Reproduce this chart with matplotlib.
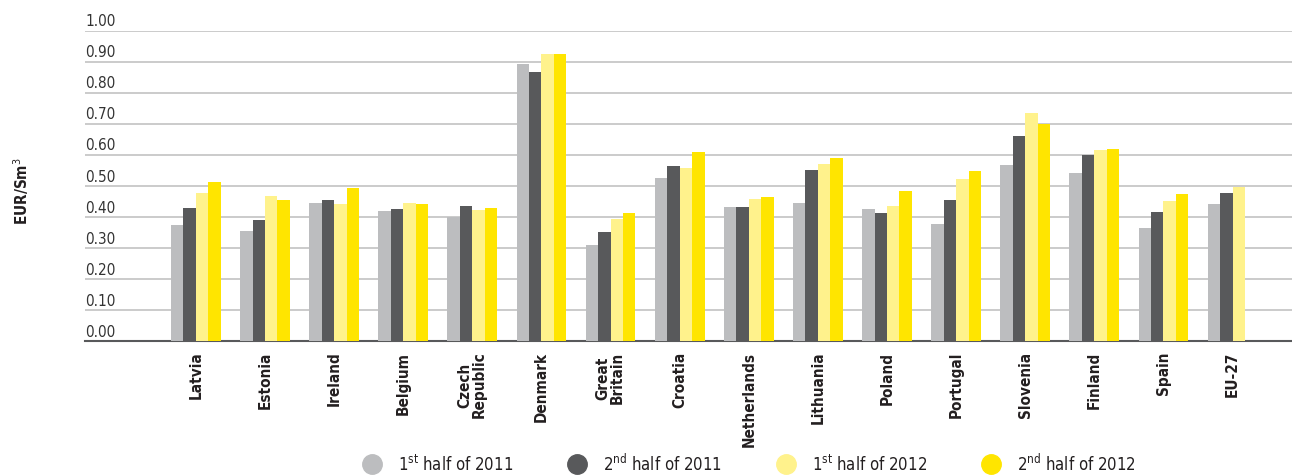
import numpy as np
import matplotlib
matplotlib.use('Agg')
from matplotlib import pyplot as plt
from matplotlib.lines import Line2D
from matplotlib import transforms

plt.rcParams['font.family'] = ['DejaVu Sans']
plt.rcParams['font.stretch'] = 'condensed'
plt.rcParams['mathtext.fontset'] = 'custom'
plt.rcParams['mathtext.rm'] = 'DejaVu Sans:stretch=condensed'

# data
countries = ['Latvia', 'Estonia', 'Ireland', 'Belgium', 'Czech\nRepublic', 'Denmark',
             'Great\nBritain', 'Croatia', 'Netherlands', 'Lithuania', 'Poland',
             'Portugal', 'Slovenia', 'Finland', 'Spain', 'EU-27']
h1_2011 = [0.375, 0.354, 0.445, 0.419, 0.399, 0.895, 0.310, 0.525, 0.432, 0.445,
           0.425, 0.376, 0.568, 0.542, 0.364, 0.442]
h2_2011 = [0.428, 0.389, 0.455, 0.425, 0.437, 0.869, 0.351, 0.564, 0.432, 0.551,
           0.412, 0.455, 0.660, 0.600, 0.415, 0.477]
h1_2012 = [0.476, 0.467, 0.442, 0.446, 0.424, 0.926, 0.394, 0.559, 0.458, 0.572,
           0.437, 0.521, 0.735, 0.617, 0.450, 0.498]
h2_2012 = [0.512, 0.455, 0.494, 0.442, 0.429, 0.926, 0.412, 0.611, 0.464, 0.590,
           0.485, 0.547, 0.700, 0.620, 0.473, np.nan]
series_labels = ['1$^{\\mathrm{st}}$ half of 2011', '2$^{\\mathrm{nd}}$ half of 2011',
                 '1$^{\\mathrm{st}}$ half of 2012', '2$^{\\mathrm{nd}}$ half of 2012']
yticks = [0.0, 0.1, 0.2, 0.3, 0.4, 0.5, 0.6, 0.7, 0.8, 0.9, 1.0]

colors = ['#bcbdbf', '#58595b', '#fff28c', '#ffe500']
grid_col = '#c2c2c2'

fig = plt.figure(figsize=(12.92, 4.77), dpi=100)
ax = fig.add_axes([0.066, 0.283, 0.934, 0.650])

x = np.arange(len(countries))
w = 0.18
for i, vals in enumerate([h1_2011, h2_2011, h1_2012, h2_2012]):
    ax.bar(x + (i - 1.5) * w, vals, width=w, color=colors[i], zorder=3)

ax.set_xlim(-1.6, 15.86)
ax.set_ylim(0, 1.0)
for s in ['top', 'right', 'left']:
    ax.spines[s].set_visible(False)
ax.spines['bottom'].set_color('#58595b')
ax.spines['bottom'].set_linewidth(1.5)

ax.set_yticks(yticks)
ax.set_yticklabels([])
ax.tick_params(axis='y', length=0)
for t in yticks[1:]:
    ax.axhline(t, color=grid_col, lw=1.2, zorder=1)
trans = transforms.blended_transform_factory(ax.transAxes, ax.transData)
for t in yticks:
    ax.text(0.0, t + 0.008, '%.2f' % t, transform=trans, ha='left', va='bottom',
            fontsize=11, color='#333333')

ax.set_xticks(x)
ax.set_xticklabels(countries, rotation=90, fontsize=11, fontweight='bold',
                   color='#231f20', va='top', ha='center', linespacing=0.95)
ax.tick_params(axis='x', length=0, pad=7)

fig.text(0.016, 0.6, 'EUR/Sm$^{\\mathrm{3}}$', rotation=90, ha='center', va='center',
         fontsize=11, fontweight='bold', color='#231f20')

handles = [Line2D([], [], marker='o', ls='', markersize=14, color=c) for c in colors]
fig.legend(handles, series_labels, loc='center', bbox_to_anchor=(0.577, 0.026),
           ncol=4, frameon=False, fontsize=12, columnspacing=2.8, handletextpad=0.6,
           labelcolor='#231f20')

fig.savefig('out.png', dpi=100)
